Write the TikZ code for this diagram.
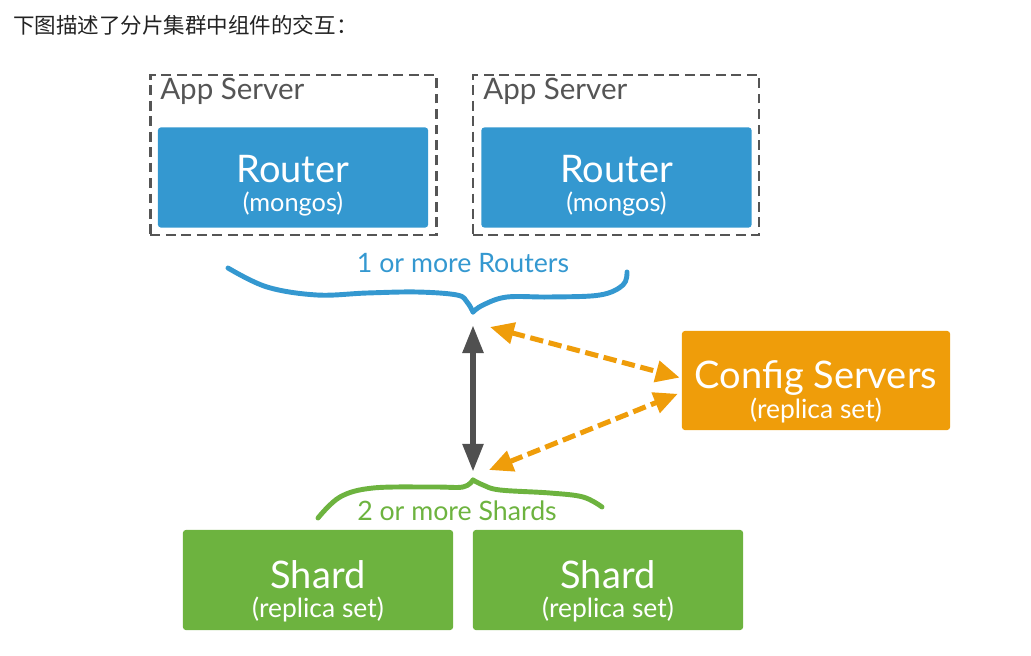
\documentclass[tikz,border=0pt]{standalone}
\usepackage{fontspec}
\setmainfont{Lato}
\newfontfamily\cjk{Noto Sans CJK SC}
\usetikzlibrary{arrows.meta}
\definecolor{mblue}{RGB}{52,152,208}
\definecolor{mgreen}{RGB}{109,179,63}
\definecolor{morange}{RGB}{239,157,10}
\definecolor{mgray}{RGB}{85,85,85}
\definecolor{mdark}{RGB}{80,80,80}

\begin{document}
\begin{tikzpicture}[x=0.025cm, y=-0.025cm,
  appbox/.style={draw=mgray, line width=2pt, dash pattern=on 7pt off 4pt,
                 minimum width=7.15cm, minimum height=4cm},
  box/.style={fill=#1, rounded corners=2pt, minimum width=6.75cm, minimum height=2.5cm},
  maintext/.style={text=white, anchor=base, inner sep=0pt, font=\fontsize{27}{30}\selectfont},
  subtext/.style={text=white, anchor=base, inner sep=0pt, font=\fontsize{18.8}{22}\selectfont},
  bracetext/.style={text=#1, anchor=base, inner sep=0pt, font=\fontsize{19}{22}\selectfont},
  apptext/.style={anchor=base west, inner sep=0pt, text=mgray, font=\fontsize{21}{24}\selectfont},
  curly/.style={draw=#1, line width=3.5pt, line cap=round, line join=round},
  grayarrow/.style={draw=mdark, line width=4.5pt,
                    {Triangle[length=20pt,width=14pt]}-{Triangle[length=20pt,width=14pt]}},
  cfgarrow/.style={draw=morange, line width=3.6pt, dash pattern=on 9.5pt off 4pt,
                   {Triangle[length=17pt,width=15pt]}-{Triangle[length=17pt,width=15pt]}}]
  \useasboundingbox (0,0) rectangle (1031,656);

  % title
  \node[anchor=base west, inner sep=0pt, text={rgb,255:red,34;green,34;blue,34},
        font=\cjk\fontsize{15.3}{18}\selectfont] (title) at (13,33.5) {下图描述了分片集群中组件的交互：};

  % app servers with routers
  \node[appbox] (app1) at (293.5,155) {};
  \node[appbox] (app2) at (616,155)   {};
  \node[apptext] (app1t) at (160,100) {App Server};
  \node[apptext] (app2t) at (483,100) {App Server};

  \node[box=mblue] (r1) at (293,177.5) {};
  \node[box=mblue] (r2) at (616.5,177.5) {};
  \node[maintext] (r1t) at (293,183)   {Router};
  \node[subtext]  (r1s) at (293,211)   {\fontsize{18}{22}\selectfont(mongos)};
  \node[maintext] (r2t) at (616.5,183) {Router};
  \node[subtext]  (r2s) at (616.5,211) {\fontsize{18}{22}\selectfont(mongos)};

  % config servers
  \node[box=morange, minimum width=6.7cm, minimum height=2.475cm] (cfg) at (816,380.5) {};
  \node[maintext] (cfgt) at (816,388.5) {Config Servers};
  \node[subtext]  (cfgs) at (816,418.5) {(replica set)};

  % shards
  \node[box=mgreen] (s1) at (318,580) {};
  \node[box=mgreen] (s2) at (608,580) {};
  \node[maintext] (s1t) at (318,588) {Shard};
  \node[subtext]  (s1s) at (318,617) {(replica set)};
  \node[maintext] (s2t) at (608,588) {Shard};
  \node[subtext]  (s2s) at (608,617) {(replica set)};

  % braces
  \coordinate (bt) at (473,312);
  \coordinate (gt) at (473,480);
  \draw[curly=mblue] plot[smooth, tension=0.6] coordinates
        {(228,268) (267,287) (317,295) (367,293) (417,292) (457,295) (467,302) (bt)};
  \draw[curly=mblue] plot[smooth, tension=0.6] coordinates
        {(bt) (483,305) (507,297) (550,297) (600,295) (623,285) (627,272)};
  \node[bracetext=mblue] (rl) at (463,272) {1 or more Routers};

  \draw[curly=mgreen] plot[smooth, tension=0.6] coordinates
        {(318,518) (340,497) (373,488) (433,487) (463,487) (gt)};
  \draw[curly=mgreen] plot[smooth, tension=0.6] coordinates
        {(gt) (483,485) (500,490) (550,493) (583,497) (602,507)};
  \node[bracetext=mgreen] (sl) at (457,520) {2 or more Shards};

  % arrows
  \coordinate (ua) at (490,327);
  \coordinate (la) at (489,470);
  \draw[grayarrow, shorten <=9.2pt, shorten >=5.7pt] (bt) -- (gt);
  \draw[cfgarrow, shorten >=1.5pt] (ua) -- (cfg.179);
  \draw[cfgarrow, shorten >=3pt]   (la) -- (cfg.185);
\end{tikzpicture}
\end{document}
